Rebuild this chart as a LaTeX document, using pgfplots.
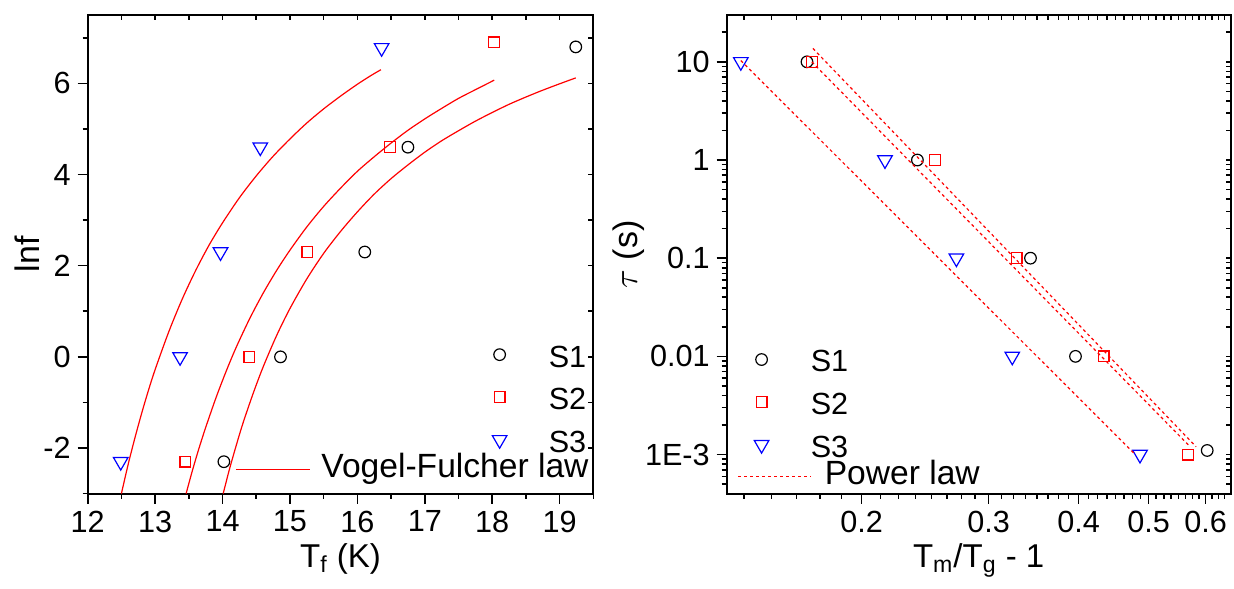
\documentclass[border=0pt]{standalone}
\usepackage{fontspec}
\setmainfont{Liberation Sans}
\usepackage{pgfplots}
\pgfplotsset{compat=1.18}

\definecolor{fitred}{RGB}{255,0,0}
\definecolor{sblue}{RGB}{0,0,255}

\pgfplotsset{
  frame/.style={
    scale only axis, height=239.3pt, clip=false,
    axis line style={line width=1pt},
    tick style={line width=0.8pt, black},
    tick label style={font=\fontsize{15.3}{18}\selectfont},
  },
  outer ticks/.style={xtick pos=left, ytick pos=left, tick align=outside,
    major tick length=5pt, minor tick length=2.5pt},
  inner ticks/.style={xtick pos=right, ytick pos=right, tick align=inside,
    major tick length=2.5pt, minor tick length=2.5pt,
    xticklabel=\empty, yticklabel=\empty},
  s1/.style={only marks, black, mark=o, mark size=2.9pt, line width=0.6pt},
  s2/.style={only marks, fitred, mark=square, mark size=2.7pt, line width=0.6pt},
  s3/.style={only marks, sblue, mark=triangle, mark size=4.2pt, line width=0.6pt, mark options={rotate=180}},
  marklegend/.style={
    legend style={draw=none, fill=none, inner sep=0pt, outer sep=0pt, anchor=north west,
      row sep=0pt, column sep=0pt, cells={anchor=base west},
      nodes={inner sep=0pt, text height=11pt, text depth=0pt, font=\fontsize{15.3}{18}\selectfont}},
    legend image code/.code={\draw[##1] plot coordinates {(0pt,6.2pt)}; \path (-6pt,-10pt) (24.3pt,0pt);}},
  linelegend/.style 2 args={
    legend style={draw=none, fill=none, inner sep=0pt, outer sep=0pt, anchor=north west,
      row sep=0pt, column sep=0pt, cells={anchor=base west},
      nodes={inner sep=0pt, text height=12pt, text depth=0pt, font=\fontsize{16.8}{20}\selectfont}},
    legend image code/.code={\draw[##1, fitred, line width=0.6pt] (0pt,4pt) -- (#1,4pt); \path (#2,0pt);}},
}

\begin{document}
\begin{tikzpicture}
\useasboundingbox (0,0) rectangle (617pt,294pt);

% left panel, data
\begin{axis}[frame, outer ticks, marklegend,
  at={(43.85pt,47.2pt)}, anchor=south west, width=252.8pt,
  xmin=12, xmax=19.5, ymin=-3, ymax=7.5,
  xtick={12,...,19}, xticklabels={12,13,14,15,16,17,18,19},
  minor xtick={12.5,13.5,...,19.5},
  ytick={-2,0,2,4,6}, yticklabels={-2,0,2,4,6},
  minor ytick={-3,-1,1,3,5,7},
  xlabel={T\textsubscript{f} (K)}, ylabel={lnf},
  xlabel style={at={([yshift=-37pt]axis description cs:0.5,0)}, anchor=base, font=\fontsize{16.5}{20}\selectfont},
  ylabel style={at={([xshift=-24pt]axis description cs:0,0.5)}, anchor=base, font=\fontsize{17}{20}\selectfont},
  legend style={at={(axis description cs:0.7898,0.3104)}},
]
\addplot[s1] coordinates {(14.02,-2.3) (14.86,0) (16.11,2.3) (16.75,4.6) (19.24,6.8)};
\addlegendentry{S1}
\addplot[s2] coordinates {(13.45,-2.3) (14.40,0) (15.26,2.3) (16.48,4.6) (18.03,6.9)};
\addlegendentry{S2}
\addplot[s3] coordinates {(12.49,-2.3) (13.37,0) (13.97,2.3) (14.56,4.6) (16.36,6.78)};
\addlegendentry{S3}
\end{axis}

% left panel, fits and mirrored ticks
\begin{axis}[frame, inner ticks, linelegend={37.15pt}{42.5pt},
  at={(43.85pt,47.2pt)}, anchor=south west, width=252.8pt,
  xmin=12, xmax=19.5, ymin=-3, ymax=7.5,
  xtick={12,...,19}, minor xtick={12.5,13.5,...,19.5},
  ytick={-2,0,2,4,6}, minor ytick={-3,-1,1,3,5,7},
  legend style={at={(axis description cs:0.2919,0.0835)}},
]
\addplot[fitred, line width=0.6pt, smooth] coordinates {
  (12.50,-3.00) (12.60,-2.36) (12.70,-1.78) (12.80,-1.24) (12.90,-0.74) (13.00,-0.28)
  (13.20,0.54) (13.40,1.26) (13.60,1.89) (13.80,2.45) (14.00,2.94) (14.25,3.49)
  (14.50,3.97) (14.75,4.40) (15.00,4.78) (15.25,5.13) (15.50,5.44) (15.75,5.72)
  (16.00,5.98) (16.20,6.17) (16.35,6.30)};
\addlegendentry{Vogel-Fulcher law}
\addplot[fitred, line width=0.6pt, smooth, forget plot] coordinates {
  (13.46,-3.00) (13.55,-2.51) (13.65,-2.01) (13.75,-1.55) (13.90,-0.91) (14.05,-0.33)
  (14.20,0.20) (14.40,0.83) (14.60,1.39) (14.80,1.89) (15.00,2.34) (15.25,2.85)
  (15.50,3.30) (15.75,3.70) (16.00,4.07) (16.25,4.39) (16.50,4.69) (16.75,4.97)
  (17.00,5.22) (17.25,5.45) (17.50,5.67) (17.75,5.86) (18.03,6.07)};
\addplot[fitred, line width=0.6pt, smooth, forget plot] coordinates {
  (14.01,-3.00) (14.10,-2.48) (14.20,-1.96) (14.30,-1.47) (14.45,-0.82) (14.60,-0.23)
  (14.80,0.46) (15.00,1.06) (15.25,1.71) (15.50,2.27) (15.75,2.75) (16.00,3.18)
  (16.25,3.57) (16.50,3.91) (16.75,4.21) (17.00,4.49) (17.25,4.74) (17.50,4.96)
  (17.75,5.17) (18.00,5.36) (18.25,5.54) (18.50,5.70) (18.75,5.85) (19.00,5.99) (19.24,6.12)};
\end{axis}

% right panel, data
\begin{axis}[frame, outer ticks, marklegend,
  at={(363.35pt,47.2pt)}, anchor=south west, width=252pt,
  xmode=log, ymode=log,
  xmin=0.13, xmax=0.65, ymin=4e-4, ymax=30,
  xtick={0.2,0.3,0.4,0.5,0.6}, xticklabels={0.2,0.3,0.4,0.5,0.6},
  minor xtick={0.1375,0.15,0.1625,0.175,0.1875,0.2125,0.225,0.2375,0.25,0.2625,0.275,0.2875,
    0.3125,0.325,0.3375,0.35,0.3625,0.375,0.3875,0.4125,0.425,0.4375,0.45,0.4625,0.475,0.4875,
    0.5125,0.525,0.5375,0.55,0.5625,0.575,0.5875,0.6125,0.625,0.6375},
  ytick={0.001,0.01,0.1,1,10}, yticklabels={1E-3,0.01,0.1,1,10},
  minor ytick={5e-4,6e-4,7e-4,8e-4,9e-4,0.002,0.003,0.004,0.005,0.006,0.007,0.008,0.009,
    0.02,0.03,0.04,0.05,0.06,0.07,0.08,0.09,0.2,0.3,0.4,0.5,0.6,0.7,0.8,0.9,2,3,4,5,6,7,8,9,20},
  xlabel={T\textsubscript{m}/T\textsubscript{g} - 1}, ylabel={$\tau$ (s)},
  xlabel style={at={([yshift=-37pt]axis description cs:0.5,0)}, anchor=base, font=\fontsize{16.5}{20}\selectfont},
  ylabel style={at={([xshift=-44.8pt]axis description cs:0,0.5)}, anchor=base, font=\fontsize{17}{20}\selectfont},
  legend style={at={(axis description cs:0.0442,0.3002)}},
]
\addplot[s1] coordinates {(0.168,10) (0.239,1) (0.343,0.1) (0.396,0.01) (0.603,0.0011)};
\addlegendentry{S1}
\addplot[s2] coordinates {(0.1706,10) (0.253,1) (0.328,0.1) (0.433,0.01) (0.567,0.001)};
\addlegendentry{S2}
\addplot[s3] coordinates {(0.136,10) (0.2155,1) (0.2707,0.1) (0.3236,0.01) (0.4865,0.001)};
\addlegendentry{S3}
\end{axis}

% right panel, power-law fits and mirrored ticks
\begin{axis}[frame, inner ticks, linelegend={36.25pt}{43.05pt},
  at={(363.35pt,47.2pt)}, anchor=south west, width=252pt,
  xmode=log, ymode=log,
  xmin=0.13, xmax=0.65, ymin=4e-4, ymax=30,
  xtick={0.2,0.3,0.4,0.5,0.6},
  minor xtick={0.1375,0.15,0.1625,0.175,0.1875,0.2125,0.225,0.2375,0.25,0.2625,0.275,0.2875,
    0.3125,0.325,0.3375,0.35,0.3625,0.375,0.3875,0.4125,0.425,0.4375,0.45,0.4625,0.475,0.4875,
    0.5125,0.525,0.5375,0.55,0.5625,0.575,0.5875,0.6125,0.625,0.6375},
  ytick={0.001,0.01,0.1,1,10},
  minor ytick={5e-4,6e-4,7e-4,8e-4,9e-4,0.002,0.003,0.004,0.005,0.006,0.007,0.008,0.009,
    0.02,0.03,0.04,0.05,0.06,0.07,0.08,0.09,0.2,0.3,0.4,0.5,0.6,0.7,0.8,0.9,2,3,4,5,6,7,8,9,20},
  legend style={at={(axis description cs:0.0214,0.069)}},
]
\addplot[fitred, line width=0.6pt, dash pattern=on 1.5pt off 1.5pt] coordinates {(0.1712,13.7) (0.582,0.0012)};
\addlegendentry{Power law}
\addplot[fitred, line width=0.6pt, dash pattern=on 1.5pt off 1.5pt, forget plot] coordinates {(0.1706,10) (0.568,0.00125)};
\addplot[fitred, line width=0.6pt, dash pattern=on 1.5pt off 1.5pt, forget plot] coordinates {(0.136,10.3) (0.478,0.00102)};
\end{axis}
\end{tikzpicture}
\end{document}
